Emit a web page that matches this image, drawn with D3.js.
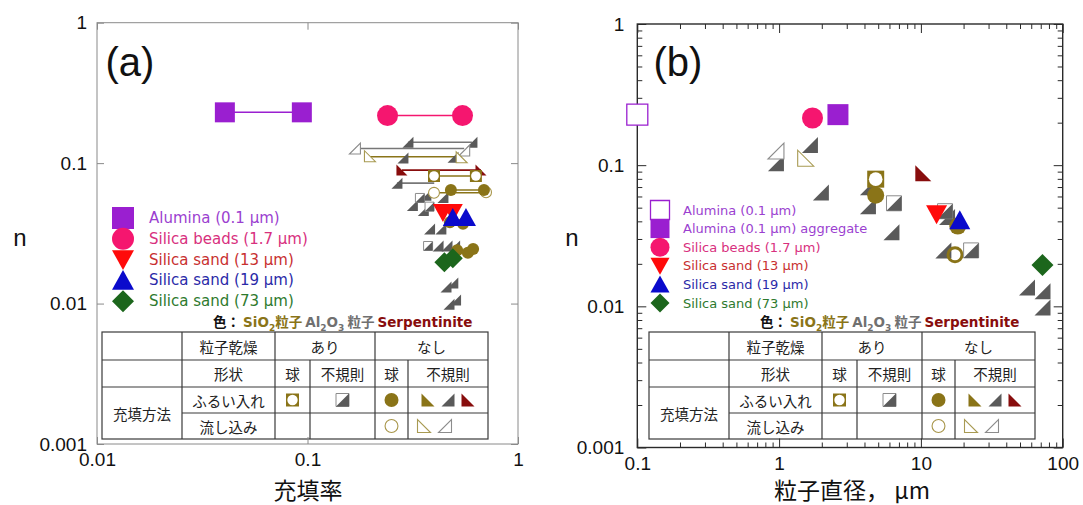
<!DOCTYPE html>
<html>
<head>
<meta charset="utf-8">
<script src="https://cdn.jsdelivr.net/npm/d3@7"></script>
<style>
  body { margin: 0; background: #fff; }
  svg { display: block; }
</style>
</head>
<body>
<svg id="chart" width="1083" height="505"></svg>
<script>
// ---------------- data: panel (a) n vs packing fraction ----------------
const aluminaA        = [[0.0405, 0.23], [0.094, 0.23]];
const beadsA          = [[0.24, 0.218], [0.545, 0.218]];
const sand13A         = [[0.44, 0.0445], [0.49, 0.0445]];
const sand19A         = [[0.49, 0.0410], [0.566, 0.0410]];
const sand73A         = [[0.447, 0.0197], [0.49, 0.0210]];
const al2o3SieveA     = [[0.300, 0.141], [0.604, 0.141], [0.284, 0.109], [0.491, 0.110],
                         [0.266, 0.072], [0.365, 0.059], [0.44, 0.057], [0.315, 0.050],
                         [0.355, 0.046], [0.38, 0.034], [0.43, 0.034], [0.417, 0.0257],
                         [0.46, 0.0257], [0.50, 0.0257], [0.455, 0.0131], [0.49, 0.0140],
                         [0.47, 0.0099], [0.505, 0.0106]];
const al2o3PourA      = [[0.168, 0.127], [0.555, 0.123]];
const sio2PourTriA    = [[0.198, 0.112], [0.54, 0.110]];
const serpSieveA      = [[0.281, 0.0893], [0.667, 0.0893]];
const sio2DriedA      = [[0.399, 0.081], [0.631, 0.081]];
const sphereSieveA    = [[0.48, 0.0643], [0.689, 0.0643], [0.475, 0.038], [0.548, 0.037],
                         [0.514, 0.024], [0.578, 0.023], [0.612, 0.0245]];
const spherePourA     = [[0.399, 0.0615], [0.705, 0.062]];
const al2o3DriedA     = [[0.342, 0.0565], [0.38, 0.049], [0.374, 0.0257]];
// horizontal links between paired fills: [x from, x to, n]
const grayLinksA      = [[0.300, 0.604, 0.141], [0.168, 0.555, 0.127], [0.266, 0.40, 0.072]];
const oliveLinksA     = [[0.198, 0.54, 0.111], [0.399, 0.631, 0.081], [0.48, 0.689, 0.0643],
                         [0.399, 0.705, 0.0615]];
const serpLinksA      = [[0.281, 0.667, 0.0893]];

// ---------------- data: panel (b) n vs particle diameter ----------------
const aluminaOpenB    = [[0.1, 0.228]];
const aluminaAggB     = [[2.6, 0.228]];
const beadsB          = [[1.72, 0.216]];
const sand13B         = [[12.9, 0.0449]];
const sand19B         = [[18.8, 0.0407]];
const sand73B         = [[72, 0.0196]];
const al2o3SieveB     = [[1.65, 0.139], [0.95, 0.103], [1.97, 0.064], [4.23, 0.0698],
                         [4.23, 0.0512], [6.2, 0.0335], [15.3, 0.043], [14.4, 0.0249],
                         [56, 0.0136], [72, 0.0128], [72, 0.0098]];
const al2o3PourB      = [[0.95, 0.126]];
const sio2PourTriB    = [[1.54, 0.112]];
const serpSieveB      = [[10.4, 0.0877]];
const sio2DriedB      = [[4.8, 0.0796]];
const sphereSieveB    = [[4.8, 0.0612], [18.2, 0.037]];
const spherePourB     = [[17.4, 0.0232]];
const al2o3DriedB     = [[6.46, 0.0537], [14.8, 0.0472], [22.6, 0.0249]];

// ---------------- axes ticks & text ----------------
const fracTicks   = [0.01, 0.1, 1];
const fracLabels  = ["0.01", "0.1", "1"];
const diamTicks   = [0.1, 1, 10, 100];
const diamLabels  = ["0.1", "1", "10", "100"];
const nTicks      = [0.001, 0.01, 0.1, 1];
const nLabels     = ["0.001", "0.01", "0.1", "1"];
const legendNamesA = ["Alumina (0.1 µm)", "Silica beads (1.7 µm)", "Silica sand (13 µm)",
                      "Silica sand (19 µm)", "Silica sand (73 µm)"];
const legendNamesB = ["Alumina (0.1 µm)", "Alumina (0.1 µm) aggregate", "Silica beads (1.7 µm)",
                      "Silica sand (13 µm)", "Silica sand (19 µm)", "Silica sand (73 µm)"];
const tableRow1 = ["", "粒子乾燥", "あり", "なし"];
const tableRow2 = ["", "形状", "球", "不規則", "球", "不規則"];
const tableMethod = "充填方法";
const tableFills = ["ふるい入れ", "流し込み"];

// ---------------- styles ----------------
const COL = {
  olive: "#8a7418", gray: "#5a5a5a", serp: "#880d0d", purple: "#9a1fd0",
  pink: "#f5166f", red: "#ff0a0a", blue: "#0a0acc", green: "#1c661c"
};
const LATIN = "'DejaVu Sans', Verdana, sans-serif";
const ARIAL = "'Liberation Sans', Arial, sans-serif";
const CJK = "'Noto Sans CJK JP', 'Noto Sans CJK SC', sans-serif";

const KIND = {
  alumina:     { shape: "square", fill: COL.purple },
  aluminaOpen: { shape: "square", fill: "#fff", stroke: COL.purple, sw: 1.3 },
  beads:       { shape: "circle", fill: COL.pink },
  sand13:      { shape: "down", fill: COL.red },
  sand19:      { shape: "up", fill: COL.blue },
  sand73:      { shape: "diamond", fill: COL.green },
  al2o3Sieve:  { shape: "triBR", fill: COL.gray },
  sio2Sieve:   { shape: "triBL", fill: COL.olive },
  serpSieve:   { shape: "triBL", fill: COL.serp },
  al2o3Pour:   { shape: "triBR", fill: "#fff", stroke: "#8c8c8c", sw: 1.1 },
  sio2PourTri: { shape: "triBL", fill: "#fff", stroke: "#a89a52", sw: 1.1 },
  sphereSieve: { shape: "circle", fill: COL.olive },
  spherePour:  { shape: "circle", fill: "#fff", stroke: "#a8964a", sw: 1.1 },
  spherePourThick: { shape: "circle", fill: "none", stroke: COL.olive, sw: 3 },
  sio2Dried:   { shape: "sqCircle" },
  al2o3Dried:  { shape: "halfSquare" }
};

function shapeD(shape, x, y, s) {
  const h = s / 2;
  switch (shape) {
    case "square":  return `M${x - h},${y - h}h${s}v${s}h${-s}Z`;
    case "triBR":   return `M${x + h},${y - h}L${x + h},${y + h}L${x - h},${y + h}Z`;
    case "triBL":   return `M${x - h},${y - h}L${x - h},${y + h}L${x + h},${y + h}Z`;
    case "down":    return `M${x - h},${y - h * 0.85}L${x + h},${y - h * 0.85}L${x},${y + h * 0.95}Z`;
    case "up":      return `M${x - h},${y + h * 0.85}L${x + h},${y + h * 0.85}L${x},${y - h * 0.95}Z`;
    case "diamond": return `M${x},${y - h}L${x + h},${y}L${x},${y + h}L${x - h},${y}Z`;
  }
}

function drawMarker(sel, kindName, x, y, s) {
  const k = KIND[kindName];
  if (k.shape === "circle") {
    const r = s / 2 - (k.sw ? k.sw / 2 : 0);
    sel.append("circle").attr("cx", x).attr("cy", y).attr("r", r)
      .attr("fill", k.fill).attr("stroke", k.stroke || "none").attr("stroke-width", k.sw || 0);
  } else if (k.shape === "sqCircle") {
    sel.append("path").attr("d", shapeD("square", x, y, s)).attr("fill", COL.olive);
    sel.append("circle").attr("cx", x).attr("cy", y).attr("r", s * 0.4).attr("fill", "#fff");
  } else if (k.shape === "halfSquare") {
    sel.append("path").attr("d", shapeD("square", x, y, s - 1))
      .attr("fill", "#fff").attr("stroke", "#8c8c8c").attr("stroke-width", 1);
    sel.append("path").attr("d", shapeD("triBR", x, y, s - 1)).attr("fill", COL.gray);
  } else {
    sel.append("path").attr("d", shapeD(k.shape, x, y, s))
      .attr("fill", k.fill).attr("stroke", k.stroke || "none").attr("stroke-width", k.sw || 0)
      .attr("stroke-linejoin", "miter");
  }
}

function plotSeries(g, data, kindName, s, sx, sy) {
  g.append("g").selectAll("g").data(data).join("g")
    .each(function (d) { drawMarker(d3.select(this), kindName, sx(d[0]), sy(d[1]), s); });
}

function plotLinks(g, links, color, sx, sy, w) {
  g.append("g").selectAll("line").data(links).join("line")
    .attr("x1", d => sx(d[0])).attr("x2", d => sx(d[1]))
    .attr("y1", d => sy(d[2])).attr("y2", d => sy(d[2]))
    .attr("stroke", color).attr("stroke-width", w);
}

function addAxes(g, sx, sy, box, opt) {
  const styleTicks = a => {
    a.select(".domain").remove();
    a.selectAll("line").attr("stroke", opt.tickColor).attr("stroke-width", 1);
    a.selectAll("text").attr("font-family", ARIAL).attr("font-size", 19).attr("fill", "#111");
  };
  const minorX = sx.ticks().filter(v => !opt.xTicks.includes(v) && Math.abs(Math.log10(v) % 1) > 1e-6);
  const minorY = sy.ticks().filter(v => !nTicks.includes(v) && Math.abs(Math.log10(v) % 1) > 1e-6);
  const ax = [
    [d3.axisBottom(sx).tickValues(opt.xTicks).tickFormat((d, i) => opt.xLabels[i]).tickPadding(9), `translate(0,${box.y1})`],
    [d3.axisTop(sx).tickValues(opt.xTicks).tickFormat(""), `translate(0,${box.y0})`],
    [d3.axisLeft(sy).tickValues(nTicks).tickFormat((d, i) => nLabels[i]).tickPadding(opt.yPad), `translate(${box.x0},0)`],
    [d3.axisRight(sy).tickValues(nTicks).tickFormat(""), `translate(${box.x1},0)`]
  ];
  ax.forEach(([a, t]) => g.append("g").attr("transform", t).call(a.tickSize(-opt.major)).call(styleTicks));
  if (opt.minor) {
    const mx = [
      [d3.axisBottom(sx).tickValues(minorX), `translate(0,${box.y1})`],
      [d3.axisTop(sx).tickValues(minorX), `translate(0,${box.y0})`],
      [d3.axisLeft(sy).tickValues(minorY), `translate(${box.x0},0)`],
      [d3.axisRight(sy).tickValues(minorY), `translate(${box.x1},0)`]
    ];
    mx.forEach(([a, t]) => g.append("g").attr("transform", t)
      .call(a.tickSize(-opt.minorLen).tickFormat("")).call(styleTicks));
  }
  g.append("rect").attr("x", box.x0).attr("y", box.y0)
    .attr("width", box.x1 - box.x0).attr("height", box.y1 - box.y0)
    .attr("fill", "none").attr("stroke", opt.tickColor).attr("stroke-width", opt.boxW);
}

function colorLine(g, x, y) {
  const t = g.append("text").attr("x", x).attr("y", y).attr("font-family", LATIN)
    .attr("font-size", 13.5).attr("font-weight", "bold");
  t.append("tspan").attr("fill", "#111").attr("font-family", CJK).text("色： ");
  t.append("tspan").attr("fill", COL.olive).text("SiO");
  t.append("tspan").attr("fill", COL.olive).attr("font-size", 9).attr("dy", 4).text("2");
  t.append("tspan").attr("fill", COL.olive).attr("font-family", CJK).attr("dy", -4).text("粒子 ");
  t.append("tspan").attr("fill", "#707070").text("Al");
  t.append("tspan").attr("fill", "#707070").attr("font-size", 9).attr("dy", 4).text("2");
  t.append("tspan").attr("fill", "#707070").attr("dy", -4).text("O");
  t.append("tspan").attr("fill", "#707070").attr("font-size", 9).attr("dy", 4).text("3");
  t.append("tspan").attr("fill", "#707070").attr("font-family", CJK).attr("dy", -4).text(" 粒子 ");
  t.append("tspan").attr("fill", COL.serp).text(" Serpentinite");
}

function drawTable(g, dx) {
  const cx = [102, 182, 275, 310, 375, 408, 488].map(v => v + dx);
  const ry = [332, 360, 387, 413, 439];
  const st = "#3a3a3a";
  const line = (x1, y1, x2, y2) => g.append("line").attr("x1", x1).attr("y1", y1)
    .attr("x2", x2).attr("y2", y2).attr("stroke", st).attr("stroke-width", 1.2);
  g.append("rect").attr("x", cx[0]).attr("y", ry[0]).attr("width", cx[6] - cx[0])
    .attr("height", ry[4] - ry[0]).attr("fill", "#fff").attr("stroke", st).attr("stroke-width", 1.2);
  line(cx[0], ry[1], cx[6], ry[1]);
  line(cx[0], ry[2], cx[6], ry[2]);
  line(cx[1], ry[3], cx[6], ry[3]);
  line(cx[1], ry[0], cx[1], ry[4]);
  line(cx[2], ry[0], cx[2], ry[4]);
  line(cx[3], ry[1], cx[3], ry[4]);
  line(cx[4], ry[0], cx[4], ry[4]);
  line(cx[5], ry[1], cx[5], ry[4]);
  const txt = (x, y, s) => g.append("text").attr("x", x).attr("y", y).attr("text-anchor", "middle")
    .attr("dominant-baseline", "central").attr("font-family", CJK).attr("font-size", 14.5)
    .attr("fill", "#222").text(s);
  const mid = (a, b) => (a + b) / 2;
  txt(mid(cx[1], cx[2]), mid(ry[0], ry[1]), tableRow1[1]);
  txt(mid(cx[2], cx[4]), mid(ry[0], ry[1]), tableRow1[2]);
  txt(mid(cx[4], cx[6]), mid(ry[0], ry[1]), tableRow1[3]);
  for (let i = 1; i < 6; i++) txt(mid(cx[i], cx[i + 1]), mid(ry[1], ry[2]), tableRow2[i]);
  txt(mid(cx[0], cx[1]), mid(ry[2], ry[4]), tableMethod);
  txt(mid(cx[1], cx[2]), mid(ry[2], ry[3]), tableFills[0]);
  txt(mid(cx[1], cx[2]), mid(ry[3], ry[4]), tableFills[1]);
  const y3 = mid(ry[2], ry[3]), y4 = mid(ry[3], ry[4]);
  drawMarker(g, "sio2Dried", mid(cx[2], cx[3]), y3, 13);
  drawMarker(g, "al2o3Dried", mid(cx[3], cx[4]), y3, 14);
  drawMarker(g, "sphereSieve", mid(cx[4], cx[5]), y3, 14);
  drawMarker(g, "sio2Sieve", cx[5] + 20, y3, 13);
  drawMarker(g, "al2o3Sieve", cx[5] + 40, y3, 13);
  drawMarker(g, "serpSieve", cx[5] + 60, y3, 13);
  drawMarker(g, "spherePour", mid(cx[4], cx[5]), y4, 14);
  drawMarker(g, "sio2PourTri", cx[5] + 16, y4, 13);
  drawMarker(g, "al2o3Pour", cx[5] + 37, y4, 13);
}

function legend(g, x, y0, dy, names, kinds, textCols, size, fs, tx) {
  names.forEach((nm, i) => {
    const y = y0 + i * dy;
    drawMarker(g, kinds[i], x, y, size);
    g.append("text").attr("x", tx).attr("y", y).attr("dominant-baseline", "central")
      .attr("font-family", LATIN).attr("font-size", fs).attr("fill", textCols[i]).text(nm);
  });
}

const svg = d3.select("#chart");

// ---------------- panel (a) ----------------
{
  const box = { x0: 97, x1: 518, y0: 22.7, y1: 444 };
  const sx = d3.scaleLog().domain([0.01, 1]).range([box.x0, box.x1]);
  const sy = d3.scaleLog().domain([0.001, 1]).range([box.y1, box.y0]);
  const g = svg.append("g");
  drawTable(g, 0);
  addAxes(g, sx, sy, box, { xTicks: fracTicks, xLabels: fracLabels, tickColor: "#8a8a8a",
    major: 7, minor: false, yPad: 10, boxW: 1 });

  plotLinks(g, [[aluminaA[0][0], aluminaA[1][0], aluminaA[0][1]]], COL.purple, sx, sy, 1.5);
  plotLinks(g, [[beadsA[0][0], beadsA[1][0], beadsA[0][1]]], COL.pink, sx, sy, 1.5);
  plotLinks(g, grayLinksA, "#777", sx, sy, 1.6);
  plotLinks(g, oliveLinksA, COL.olive, sx, sy, 1.6);
  plotLinks(g, serpLinksA, COL.serp, sx, sy, 1.8);

  plotSeries(g, al2o3SieveA, "al2o3Sieve", 11, sx, sy);
  plotSeries(g, al2o3PourA, "al2o3Pour", 11, sx, sy);
  plotSeries(g, sio2PourTriA, "sio2PourTri", 11, sx, sy);
  plotSeries(g, al2o3DriedA, "al2o3Dried", 10, sx, sy);
  plotSeries(g, serpSieveA, "serpSieve", 11, sx, sy);
  plotSeries(g, spherePourA, "spherePour", 12, sx, sy);
  plotSeries(g, sio2DriedA, "sio2Dried", 12, sx, sy);
  plotSeries(g, sphereSieveA, "sphereSieve", 12, sx, sy);
  plotSeries(g, sand73A, "sand73", 20, sx, sy);
  plotSeries(g, sand13A, "sand13", 20, sx, sy);
  plotSeries(g, sand19A, "sand19", 20, sx, sy);
  plotSeries(g, aluminaA, "alumina", 20, sx, sy);
  plotSeries(g, beadsA, "beads", 21, sx, sy);

  legend(g, 123, 218, 20.8, legendNamesA, ["alumina", "beads", "sand13", "sand19", "sand73"],
    ["#9b3fd0", "#d8307e", "#c83030", "#2a2aa8", "#2e7a2e"], 22, 15, 149);
  colorLine(g, 213, 327);

  g.append("text").attr("x", 130).attr("y", 62).attr("text-anchor", "middle")
    .attr("dominant-baseline", "central").attr("font-family", ARIAL).attr("font-size", 40)
    .attr("fill", "#111").text("(a)");
  g.append("text").attr("x", 20).attr("y", 237).attr("text-anchor", "middle")
    .attr("dominant-baseline", "central").attr("font-family", ARIAL).attr("font-size", 24)
    .attr("fill", "#111").text("n");
  g.append("text").attr("x", 308).attr("y", 499).attr("text-anchor", "middle")
    .attr("font-family", CJK).attr("font-size", 23)
    .attr("fill", "#111").text("充填率");
}

// ---------------- panel (b) ----------------
{
  const box = { x0: 637.3, x1: 1062.7, y0: 24, y1: 447.5 };
  const sx = d3.scaleLog().domain([0.1, 100]).range([box.x0, box.x1]);
  const sy = d3.scaleLog().domain([0.001, 1]).range([box.y1, box.y0]);
  const g = svg.append("g");
  drawTable(g, 547);
  addAxes(g, sx, sy, box, { xTicks: diamTicks, xLabels: diamLabels, tickColor: "#2a2a2a",
    major: 9, minor: true, minorLen: 5, yPad: 13, boxW: 1.4 });

  plotSeries(g, al2o3SieveB, "al2o3Sieve", 16, sx, sy);
  plotSeries(g, al2o3PourB, "al2o3Pour", 16, sx, sy);
  plotSeries(g, sio2PourTriB, "sio2PourTri", 16, sx, sy);
  plotSeries(g, serpSieveB, "serpSieve", 16, sx, sy);
  plotSeries(g, sio2DriedB, "sio2Dried", 17, sx, sy);
  plotSeries(g, sphereSieveB, "sphereSieve", 17, sx, sy);
  plotSeries(g, spherePourB, "spherePourThick", 17, sx, sy);
  plotSeries(g, al2o3DriedB, "al2o3Dried", 16, sx, sy);
  plotSeries(g, aluminaOpenB, "aluminaOpen", 21, sx, sy);
  plotSeries(g, aluminaAggB, "alumina", 21, sx, sy);
  plotSeries(g, beadsB, "beads", 21, sx, sy);
  plotSeries(g, sand13B, "sand13", 21, sx, sy);
  plotSeries(g, sand19B, "sand19", 21, sx, sy);
  plotSeries(g, sand73B, "sand73", 22, sx, sy);

  legend(g, 660, 210, 18.6, legendNamesB,
    ["aluminaOpen", "alumina", "beads", "sand13", "sand19", "sand73"],
    ["#9b3fd0", "#9b3fd0", "#d8307e", "#c83030", "#2a2aa8", "#2e7a2e"], 19, 13, 683);
  colorLine(g, 760, 327);

  g.append("text").attr("x", 678).attr("y", 62).attr("text-anchor", "middle")
    .attr("dominant-baseline", "central").attr("font-family", ARIAL).attr("font-size", 40)
    .attr("fill", "#111").text("(b)");
  g.append("text").attr("x", 572).attr("y", 237).attr("text-anchor", "middle")
    .attr("dominant-baseline", "central").attr("font-family", ARIAL).attr("font-size", 24)
    .attr("fill", "#111").text("n");
  g.append("text").attr("x", 852).attr("y", 499).attr("text-anchor", "middle")
    .attr("font-family", CJK).attr("font-size", 23)
    .attr("fill", "#111").text("粒子直径，  µm");
}
</script>
</body>
</html>
